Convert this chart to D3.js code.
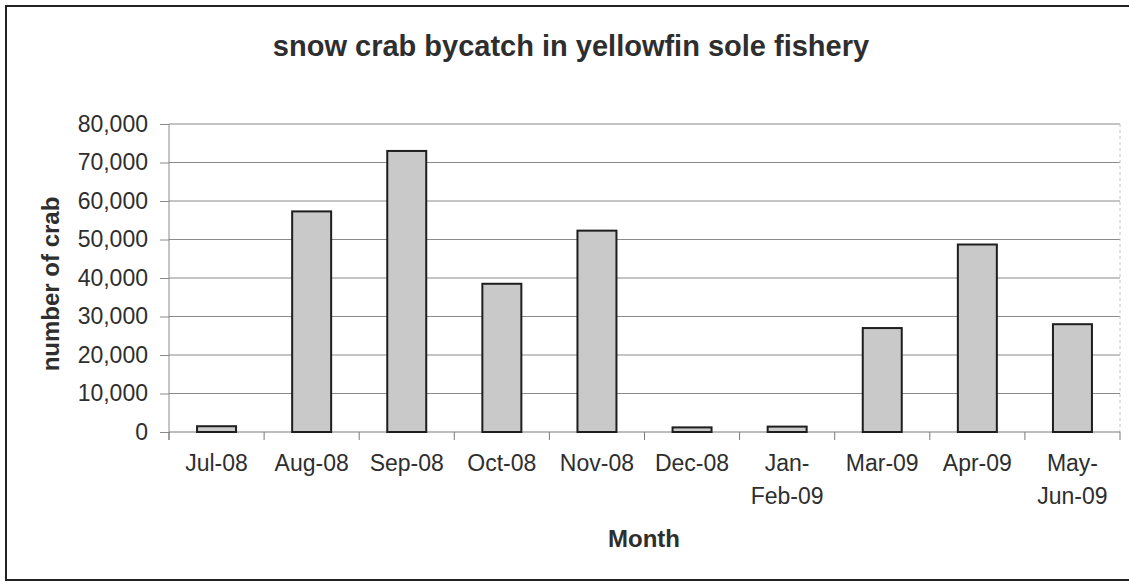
<!DOCTYPE html>
<html>
<head>
<meta charset="utf-8">
<script src="https://cdn.jsdelivr.net/npm/d3@7"></script>
<style>
  html, body { margin: 0; padding: 0; background: #fff; }
  svg { display: block; }
  text { font-family: "Liberation Sans", Arial, sans-serif; fill: #2e2e2e; }
</style>
</head>
<body>
<svg id="chart" width="1129" height="586"></svg>
<script>
// ---- data ----
const categories = [["Jul-08"], ["Aug-08"], ["Sep-08"], ["Oct-08"], ["Nov-08"], ["Dec-08"], ["Jan-", "Feb-09"], ["Mar-09"], ["Apr-09"], ["May-", "Jun-09"]];
const crabCounts = [1500, 57300, 73000, 38500, 52300, 1200, 1400, 27000, 48700, 28000];
const yTicks = [0, 10000, 20000, 30000, 40000, 50000, 60000, 70000, 80000];
const titleText = "snow crab bycatch in yellowfin sole fishery";
const yTitle = "number of crab";
const xTitle = "Month";

// ---- layout ----
const svg = d3.select("#chart");
const plotL = 169, plotR = 1120, plotT = 124, plotB = 432;
const keys = categories.map(c => c.join(" "));

const x = d3.scaleBand().domain(keys).range([plotL, plotR]).paddingInner(0.59).paddingOuter(0.295);
const y = d3.scaleLinear().domain([0, 80000]).range([plotB, plotT]);

// outer frame
svg.append("rect")
  .attr("x", 6).attr("y", 6).attr("width", 1130).attr("height", 574)
  .attr("fill", "none").attr("stroke", "#222").attr("stroke-width", 2);

// gridlines
svg.append("g").selectAll("line").data(yTicks.filter(d => d > 0)).join("line")
  .attr("x1", plotL).attr("x2", plotR)
  .attr("y1", d => y(d)).attr("y2", d => y(d))
  .attr("stroke", "#8a8a8a").attr("stroke-width", 1);

// right plot border (faint)
svg.append("line")
  .attr("x1", plotR).attr("x2", plotR).attr("y1", plotT).attr("y2", plotB)
  .attr("stroke", "#c4c4c4").attr("stroke-width", 1).attr("stroke-dasharray", "3,3");

// y axis
const yAxis = d3.axisLeft(y).tickValues(yTicks).tickSize(9).tickPadding(12)
  .tickFormat(d3.format(","));
const gy = svg.append("g").attr("transform", `translate(${plotL},0)`).call(yAxis);
gy.select(".domain").attr("stroke", "#8a8a8a").attr("d", `M0,${plotT}V${plotB + 8}`);
gy.selectAll(".tick line").attr("stroke", "#8a8a8a");
gy.selectAll(".tick text").style("font-size", "23px").attr("fill", "#2e2e2e")
  .style("font-family", '"Liberation Sans", Arial, sans-serif');

// x axis baseline + ticks at category boundaries
const step = x.step();
const boundaries = d3.range(keys.length + 1).map(i => plotL + i * step);
svg.append("line").attr("x1", plotL).attr("x2", plotR).attr("y1", plotB).attr("y2", plotB)
  .attr("stroke", "#7a7a7a").attr("stroke-width", 1.2);
svg.append("g").selectAll("line").data(boundaries).join("line")
  .attr("x1", d => d).attr("x2", d => d).attr("y1", plotB).attr("y2", plotB + 8)
  .attr("stroke", "#7a7a7a").attr("stroke-width", 1);

// bars
svg.append("g").selectAll("rect").data(crabCounts).join("rect")
  .attr("x", (d, i) => x(keys[i]))
  .attr("width", x.bandwidth())
  .attr("y", d => y(d))
  .attr("height", d => y(0) - y(d))
  .attr("fill", "#c9c9c9")
  .attr("stroke", "#1e1e1e").attr("stroke-width", 2);

// x labels
const xl = svg.append("g").selectAll("text").data(categories).join("text")
  .attr("x", (d, i) => x(keys[i]) + x.bandwidth() / 2)
  .attr("y", 471)
  .attr("text-anchor", "middle")
  .style("font-size", "23px");
xl.each(function(d) {
  const t = d3.select(this);
  const cx = t.attr("x");
  d.forEach((line, j) => {
    t.append("tspan").attr("x", cx).attr("dy", j === 0 ? 0 : 33).text(line);
  });
});

// titles
svg.append("text").attr("x", 571).attr("y", 56).attr("text-anchor", "middle")
  .style("font-size", "29px").style("font-weight", "bold").text(titleText);

svg.append("text").attr("transform", "translate(59,284) rotate(-90)")
  .attr("text-anchor", "middle")
  .style("font-size", "24px").style("font-weight", "bold").text(yTitle);

svg.append("text").attr("x", 644).attr("y", 547).attr("text-anchor", "middle")
  .style("font-size", "24px").style("font-weight", "bold").text(xTitle);
</script>
</body>
</html>
